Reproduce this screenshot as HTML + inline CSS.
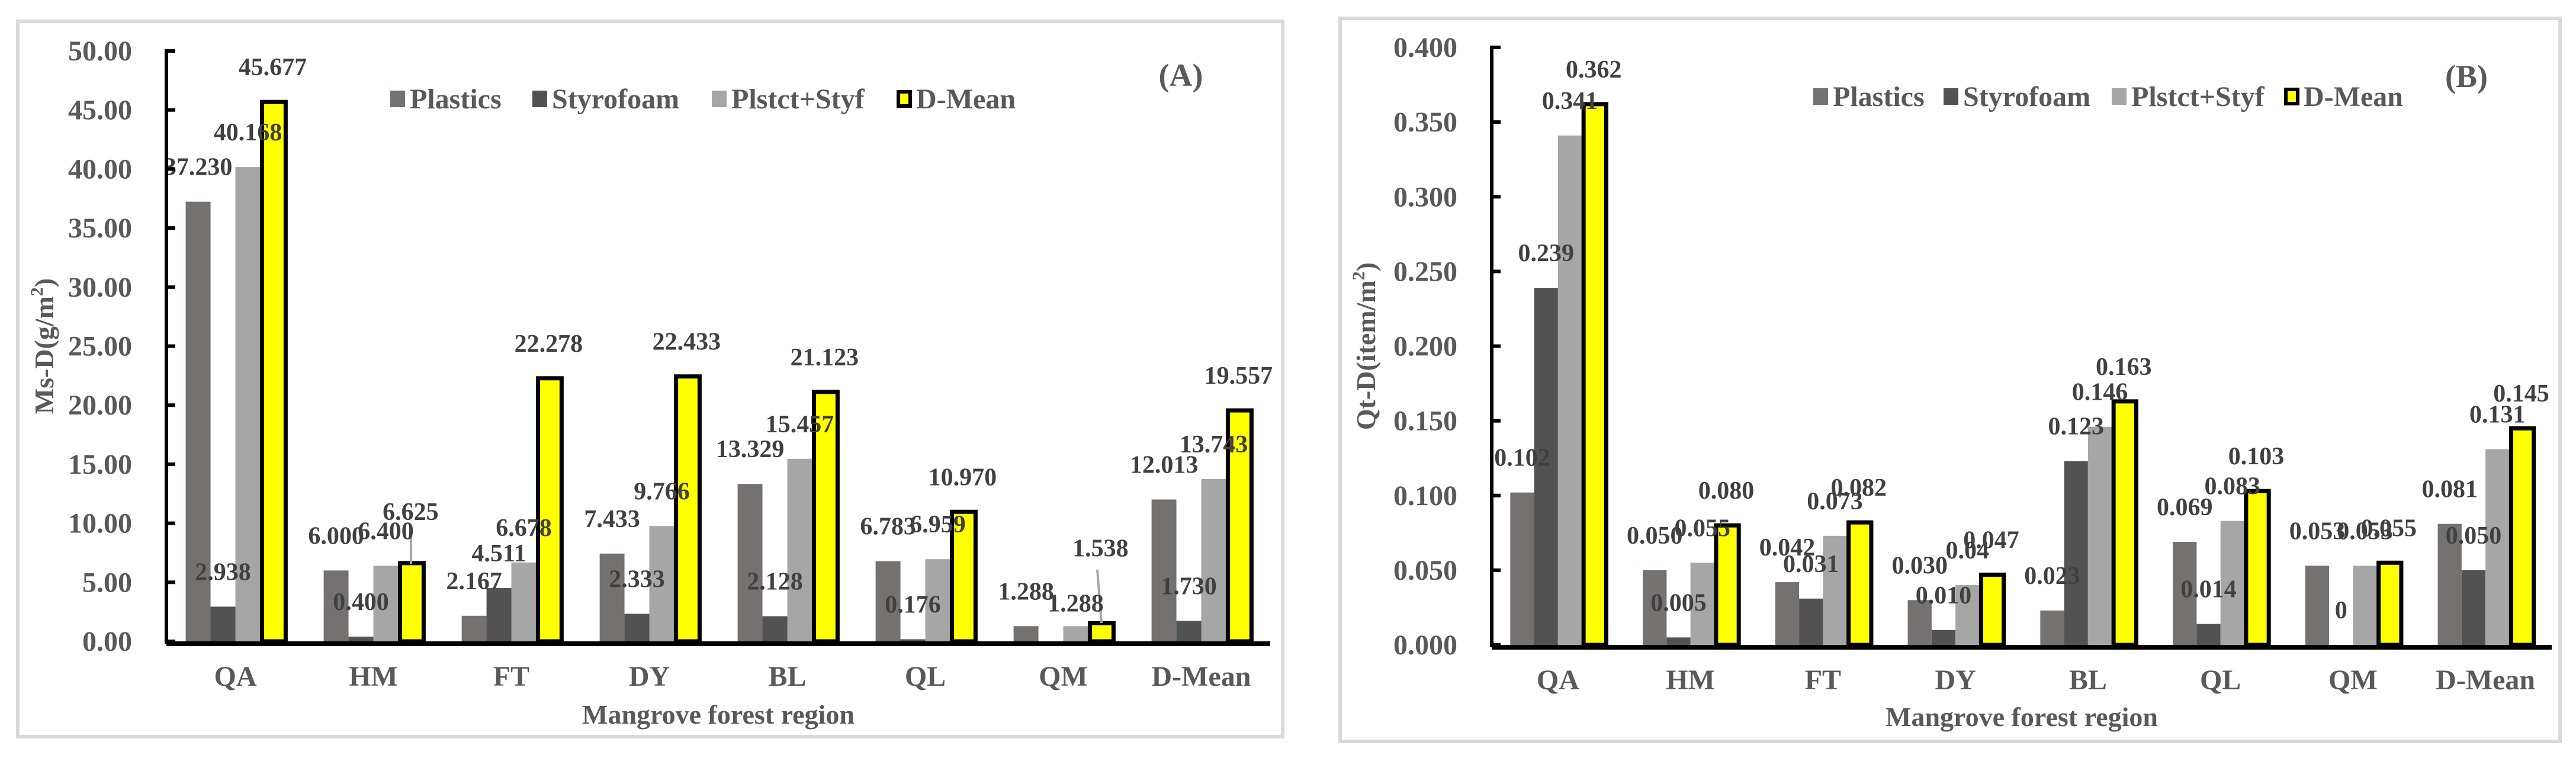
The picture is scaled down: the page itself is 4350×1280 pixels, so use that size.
<!DOCTYPE html>
<html><head><meta charset="utf-8"><style>
html,body{margin:0;padding:0;background:#fff;}
svg{display:block;font-family:"Liberation Serif","Times New Roman",serif;font-weight:bold;}
</style></head><body>
<svg id="chart" width="4350" height="1280" viewBox="0 0 4350 1280" xmlns="http://www.w3.org/2000/svg"></svg>
<script>
const categories = ["QA","HM","FT","DY","BL","QL","QM","D-Mean"];
const seriesNames = ["Plastics","Styrofoam","Plstct+Styf","D-Mean"];
// Panel A values (g/m2)
const aPlastics = [37.230, 6.000, 2.167, 7.433, 13.329, 6.783, 1.288, 12.013];
const aStyrofoam = [2.938, 0.400, 4.511, 2.333, 2.128, 0.176, 0, 1.730];
const aPlstStyf = [40.168, 6.400, 6.678, 9.766, 15.457, 6.959, 1.288, 13.743];
const aDMean = [45.677, 6.625, 22.278, 22.433, 21.123, 10.970, 1.538, 19.557];
const aPlasticsLabels = ["37.230","6.000","2.167","7.433","13.329","6.783","1.288","12.013"];
const aStyrofoamLabels = ["2.938","0.400","4.511","2.333","2.128","0.176","","1.730"];
const aPlstStyfLabels = ["40.168","6.400","6.678","9.766","15.457","6.959","1.288","13.743"];
const aDMeanLabels = ["45.677","6.625","22.278","22.433","21.123","10.970","1.538","19.557"];
const aTicks = ["0.00","5.00","10.00","15.00","20.00","25.00","30.00","35.00","40.00","45.00","50.00"];
// Panel B values (item/m2)
const bPlastics = [0.102, 0.050, 0.042, 0.030, 0.023, 0.069, 0.053, 0.081];
const bStyrofoam = [0.239, 0.005, 0.031, 0.010, 0.123, 0.014, 0, 0.050];
const bPlstStyf = [0.341, 0.055, 0.073, 0.04, 0.146, 0.083, 0.053, 0.131];
const bDMean = [0.362, 0.080, 0.082, 0.047, 0.163, 0.103, 0.055, 0.145];
const bPlasticsLabels = ["0.102","0.050","0.042","0.030","0.023","0.069","0.053","0.081"];
const bStyrofoamLabels = ["0.239","0.005","0.031","0.010","0.123","0.014","0","0.050"];
const bPlstStyfLabels = ["0.341","0.055","0.073","0.04","0.146","0.083","0.053","0.131"];
const bDMeanLabels = ["0.362","0.080","0.082","0.047","0.163","0.103","0.055","0.145"];
const bTicks = ["0.000","0.050","0.100","0.150","0.200","0.250","0.300","0.350","0.400"];

const NS = "http://www.w3.org/2000/svg";
const svg = document.getElementById("chart");
function mk(tag, attrs, parent){
  const e = document.createElementNS(NS, tag);
  for (const k in attrs) e.setAttribute(k, attrs[k]);
  (parent||svg).appendChild(e);
  return e;
}
const colors = ["#767171","#525252","#a6a6a6","#ffff00"];

function panel(cfg){
  const g = mk("g", {});
  
  
  const fr = mk("rect", {x:cfg.frame[0], y:cfg.frame[1], width:cfg.frame[2]-cfg.frame[0], height:cfg.frame[3]-cfg.frame[1], fill:"#fff", stroke:"#d9d9d9", "stroke-width":6}, g);
  
  
  const x0 = cfg.x0, x1 = cfg.x1, yTop = cfg.yTop, yBot = cfg.yBot, max = cfg.max;
  const yS = v => yBot - (v/max)*(yBot-yTop);
  const gw = (x1-x0)/categories.length;
  const bw = gw*0.18;
  const off = (gw - 4*bw)/2;
  const series = cfg.series, labels = cfg.labels;
  const shifts = cfg.labelShift || {};
  for (let i=0;i<categories.length;i++){
    for (let s=0;s<4;s++){
      const v = series[s][i];
      const bx = x0 + i*gw + off + s*bw;
      const by = yS(v);
      let r;
      if (s===3){
        r = mk("rect", {x:bx+3, y:by, width:bw-2, height:Math.max(0,yBot-by), fill:"#ffff00", stroke:"#000", "stroke-width":7}, g);
      } else {
        r = mk("rect", {x:bx, y:by, width:bw, height:Math.max(0,yBot-by), fill:colors[s]}, g);
      }
      
      
    }
  }
  (cfg.leaders||[]).forEach(l=>{
    const ln = mk("line", {x1:l[0], y1:l[1], x2:l[2], y2:l[3], stroke:"#a6a6a6", "stroke-width":4}, g);
    
    
  });
  for (let i=0;i<categories.length;i++){
    for (let s=0;s<4;s++){
      const txt = labels[s][i];
      if (!txt) continue;
      const bx = x0 + i*gw + off + s*bw + bw/2;
      const by = yS(series[s][i]);
      const dy = shifts[s+"-"+i] || 0;
      const t = mk("text", {x:bx, y:by-45+dy, "text-anchor":"middle", "font-size":42, fill:"#404040"}, g);
      t.textContent = txt;
      
      
    }
  }
  const ya = mk("line", {x1:x0, y1:yTop-3, x2:x0, y2:yBot+4, stroke:"#000", "stroke-width":6}, g);
  
  
  cfg.ticks.forEach((lab, k)=>{
    const v = max*k/(cfg.ticks.length-1);
    const ty = yS(v);
    const tk = mk("line", {x1:x0, y1:ty, x2:x0+15, y2:ty, stroke:"#000", "stroke-width":6}, g);
    
    
    const t = mk("text", {x:cfg.tickX, y:ty+16, "text-anchor":"end", "font-size":48, fill:"#595959"}, g);
    t.textContent = lab;
    
    
  });
  const xa = mk("line", {x1:x0, y1:yBot+4, x2:x1, y2:yBot+4, stroke:"#000", "stroke-width":8}, g);
  
  
  categories.forEach((c,i)=>{
    const t = mk("text", {x:x0+i*gw+gw/2, y:cfg.catY, "text-anchor":"middle", "font-size":48, fill:"#595959"}, g);
    t.textContent = c;
    
    
  });
  const xt = mk("text", {x:(x0+x1)/2, y:cfg.xTitleY, "text-anchor":"middle", "font-size":46, fill:"#595959"}, g);
  xt.textContent = "Mangrove forest region";
  
  
  const ytl = mk("text", {x:0, y:0, "text-anchor":"middle", "font-size":46, fill:"#595959", transform:"translate("+cfg.yTitleX+","+((yTop+yBot)/2)+") rotate(-90)"}, g);
  ytl.innerHTML = cfg.yTitle;
  
  
  seriesNames.forEach((n,s)=>{
    const lx = cfg.legendX[s], ly = cfg.legendY;
    let sq;
    if (s===3) sq = mk("rect", {x:lx+3, y:ly-12, width:20, height:24, fill:"#ffff00", stroke:"#000", "stroke-width":6}, g);
    else sq = mk("rect", {x:lx, y:ly-14, width:25, height:28, fill:colors[s]}, g);
    
    
    const t = mk("text", {x:lx+33, y:ly+16, "font-size":48, fill:"#595959"}, g);
    t.textContent = n;
    
    
  });
  const pl = mk("text", {x:cfg.tagX, y:cfg.tagY+18, "text-anchor":"middle", "font-size":54, fill:"#595959"}, g);
  pl.textContent = cfg.tag;
  
  
}

panel({id:"panel-a", frame:[30,36,2166,1244], x0:281, x1:2145, yTop:86, yBot:1083, max:50,
  series:[aPlastics,aStyrofoam,aPlstStyf,aDMean],
  labels:[aPlasticsLabels,aStyrofoamLabels,aPlstStyfLabels,aDMeanLabels],
  ticks:aTicks, tickX:223, catY:1158, xTitleY:1222, yTitleX:90,
  yTitle:'Ms-D(g/m<tspan dy="-18" font-size="30">2</tspan><tspan dy="18">)</tspan>',
  legendX:[659,899,1202,1514], legendY:167, tag:"(A)", tagX:1994, tagY:127,
  labelShift:{"3-1":-28,"3-6":-68,"2-6":20},
  leaders:[[694,901,694,952],[1853,962,1860,1052]]});

panel({id:"panel-b", frame:[2263,31,4323,1252], x0:2519, x1:4309, yTop:80, yBot:1089, max:0.4,
  series:[bPlastics,bStyrofoam,bPlstStyf,bDMean],
  labels:[bPlasticsLabels,bStyrofoamLabels,bPlstStyfLabels,bDMeanLabels],
  ticks:bTicks, tickX:2461, catY:1164, xTitleY:1226, yTitleX:2322,
  yTitle:'Qt-D(item/m<tspan dy="-18" font-size="30">2</tspan><tspan dy="18">)</tspan>',
  legendX:[3062,3282,3566,3857], legendY:163, tag:"(B)", tagX:4165, tagY:129});
</script>
</body></html>
